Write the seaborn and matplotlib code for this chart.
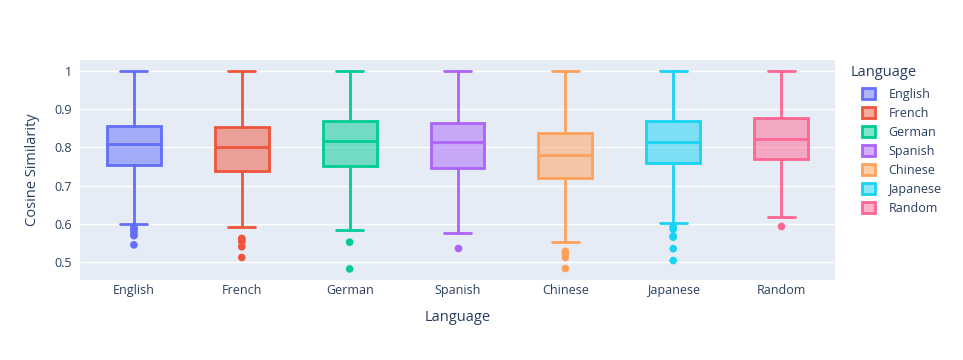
import matplotlib
matplotlib.use('Agg')
import matplotlib.pyplot as plt
from matplotlib.patches import Patch
from matplotlib.ticker import FuncFormatter
import seaborn as sns
import pandas as pd

# values
languages = ['English', 'French', 'German', 'Spanish', 'Chinese', 'Japanese', 'Random']
lower_whisker = [0.600, 0.591, 0.584, 0.577, 0.553, 0.603, 0.619]
q1 = [0.753, 0.739, 0.751, 0.746, 0.721, 0.760, 0.770]
median = [0.808, 0.802, 0.816, 0.814, 0.781, 0.815, 0.823]
q3 = [0.856, 0.854, 0.870, 0.863, 0.839, 0.868, 0.876]
upper_whisker = [1.0, 1.0, 1.0, 1.0, 1.0, 1.0, 1.0]
outliers = {
    'English': [0.591, 0.586, 0.580, 0.572, 0.569, 0.545],
    'French': [0.562, 0.558, 0.553, 0.540, 0.512],
    'German': [0.552, 0.482],
    'Spanish': [0.536],
    'Chinese': [0.528, 0.521, 0.512, 0.483],
    'Japanese': [0.592, 0.586, 0.568, 0.565, 0.535, 0.504],
    'Random': [0.595],
}
colors = ['#636EFA', '#EF553B', '#00CC96', '#AB63FA', '#FFA15A', '#19D3F3', '#FF6692']

sns.set_theme(style='darkgrid', rc={
    'axes.facecolor': '#E5ECF6',
    'grid.color': 'white',
    'grid.linewidth': 1.0,
})
plt.rcParams['font.family'] = ['Open Sans', 'DejaVu Sans']
text_color = '#2a3f5f'

fig = plt.figure(figsize=(9.63, 3.6), dpi=100)
ax = fig.add_axes([80 / 963, 80 / 360, 755 / 963, 220 / 360])

stats = []
for i, lang in enumerate(languages):
    stats.append({
        'label': lang, 'med': median[i], 'q1': q1[i], 'q3': q3[i],
        'whislo': lower_whisker[i], 'whishi': upper_whisker[i], 'fliers': [],
    })

bp = ax.bxp(stats, positions=range(len(languages)), widths=0.5,
            patch_artist=True, showfliers=False, manage_ticks=False)
for i, c in enumerate(colors):
    bp['boxes'][i].set(facecolor=(c, 0.5), edgecolor=c, linewidth=2)
    bp['medians'][i].set(color=c, linewidth=2)
    for w in bp['whiskers'][2 * i:2 * i + 2]:
        w.set(color=c, linewidth=2)
    for cap in bp['caps'][2 * i:2 * i + 2]:
        cap.set(color=c, linewidth=2)
        x = cap.get_xdata()
        mid = (x[0] + x[1]) / 2
        cap.set_xdata([mid - 0.125, mid + 0.125])

# outlier points
rows = [(lang, v) for lang in languages for v in outliers[lang]]
df_out = pd.DataFrame(rows, columns=['Language', 'Cosine Similarity'])
sns.stripplot(data=df_out, x='Language', y='Cosine Similarity', hue='Language',
              order=languages, hue_order=languages, palette=colors,
              jitter=False, size=5.5, linewidth=0, legend=False, ax=ax, zorder=3)

ax.set_xlim(-0.5, len(languages) - 0.5)
ax.set_ylim(0.453, 1.029)
ax.set_yticks([0.5, 0.6, 0.7, 0.8, 0.9, 1.0])
ax.yaxis.set_major_formatter(FuncFormatter(lambda v, p: f'{v:g}'))
ax.set_xticks(range(len(languages)))
ax.set_xticklabels(languages)
ax.grid(axis='x', visible=False)
ax.tick_params(axis='both', labelsize=9, colors=text_color, length=0)
ax.tick_params(axis='x', pad=3)
ax.tick_params(axis='y', pad=6)
for s in ax.spines.values():
    s.set_visible(False)

ax.set_xlabel('Language', fontsize=10.5, color=text_color, labelpad=9)
ax.set_ylabel('Cosine Similarity', fontsize=10.5, color=text_color, labelpad=10)

# legend: title placed separately so the entries sit indented under it
fig.text(851 / 963, 1 - 73 / 360, 'Language', fontsize=10.5, color=text_color,
         ha='left', va='center')
handles = [Patch(facecolor=(c, 0.5), edgecolor=c, linewidth=2, label=lang)
           for lang, c in zip(languages, colors)]
leg = fig.legend(handles=handles, loc='upper left',
                 bbox_to_anchor=(862 / 963, 1 - 88 / 360), frameon=False,
                 fontsize=9, handlelength=1.0, handleheight=1.0,
                 labelspacing=0.48, handletextpad=1.1, borderaxespad=0, borderpad=0)
for t in leg.get_texts():
    t.set_color(text_color)

fig.savefig('out.png', dpi=100, facecolor='white')
